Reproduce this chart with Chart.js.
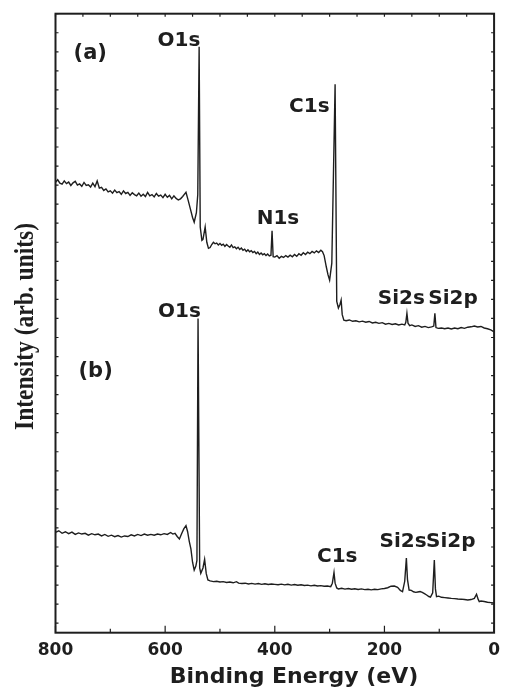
<!DOCTYPE html>
<html>
<head>
<meta charset="utf-8">
<script src="https://cdn.jsdelivr.net/npm/chart.js@4.4.1/dist/chart.umd.min.js"></script>
<style>
  html, body { margin: 0; padding: 0; background: #fff; }
  #wrap { width: 508px; height: 689px; position: relative; }
</style>
</head>
<body>
<div id="wrap"><canvas id="xps"></canvas></div>
<script>
// --- spectrum (a): binding energy (eV) / intensity (arb. units) ---
const aEnergy = [800, 796, 792, 788, 784, 780, 776, 772, 768, 764, 760, 756, 752, 748, 744, 740, 736, 732, 728, 724,
  720, 716, 712, 708, 704, 700, 696, 692, 688, 684, 680, 676, 672, 668, 664, 660, 656, 652, 648, 644,
  640, 636, 632, 628, 624, 620, 616, 612, 608, 604, 600, 596, 592, 588, 584, 580, 576, 572, 568, 564,
  562, 558, 554, 550, 547, 543, 540.5, 538, 536, 533, 531, 527, 524, 521, 518, 515, 512, 509, 506, 503,
  500, 497, 494, 491, 488, 485, 482, 479, 476, 473, 470, 467, 464, 461, 458, 455, 452, 449, 446, 443,
  440, 437, 434, 431, 428, 425, 422, 419, 416, 413, 410, 407, 405, 403, 400, 396, 392, 388, 384, 380,
  376, 372, 368, 364, 360, 356, 352, 348, 344, 340, 336, 332, 328, 324, 320, 316, 313, 310, 306, 303,
  300, 296, 290, 287, 284, 281, 279, 277, 274, 270, 264, 258, 252, 246, 240, 234, 228, 222, 216, 210,
  204, 198, 192, 186, 180, 174, 168, 163, 161, 159, 157, 154, 150, 144, 138, 132, 126, 120, 114, 110,
  108, 106, 102, 96, 90, 84, 78, 72, 66, 60, 54, 48, 42, 36, 30, 24, 18, 12, 6, 0];
const aIntensity = [23.15, 23.28, 23.10, 23.05, 23.22, 23.08, 23.16, 22.98, 23.12, 23.20, 23.00, 23.06, 22.94, 23.14, 22.98, 23.02, 22.90, 23.10, 22.92, 23.22,
  22.84, 22.88, 22.72, 22.80, 22.64, 22.70, 22.58, 22.74, 22.60, 22.66, 22.52, 22.70, 22.56, 22.62, 22.46, 22.60, 22.50, 22.44, 22.58, 22.42,
  22.52, 22.40, 22.62, 22.44, 22.50, 22.38, 22.56, 22.42, 22.48, 22.34, 22.52, 22.36, 22.46, 22.28, 22.44, 22.30, 22.22, 22.28, 22.40, 22.55,
  22.62, 22.20, 21.75, 21.30, 21.05, 21.55, 22.5, 30.26, 20.8, 20.1, 20.15, 20.8, 20.0, 19.68, 19.72, 19.88, 20.00, 19.92, 19.96, 19.86,
  19.94, 19.84, 19.90, 19.78, 19.88, 19.80, 19.74, 19.86, 19.72, 19.76, 19.66, 19.74, 19.62, 19.70, 19.58, 19.64, 19.52, 19.60, 19.50, 19.56,
  19.46, 19.52, 19.40, 19.48, 19.36, 19.44, 19.34, 19.40, 19.30, 19.38, 19.28, 19.32, 20.6, 19.24, 19.22, 19.30, 19.16, 19.26, 19.20, 19.30,
  19.22, 19.32, 19.24, 19.36, 19.26, 19.40, 19.32, 19.45, 19.36, 19.48, 19.40, 19.52, 19.44, 19.55, 19.46, 19.58, 19.50, 19.30, 18.70, 18.30,
  18.01, 18.9, 28.30, 16.9, 16.55, 16.75, 16.96, 16.2, 15.91, 15.88, 15.92, 15.85, 15.88, 15.82, 15.86, 15.80, 15.84, 15.76, 15.80, 15.74,
  15.78, 15.70, 15.74, 15.68, 15.72, 15.66, 15.70, 15.66, 15.80, 16.27, 15.75, 15.62, 15.66, 15.58, 15.62, 15.54, 15.58, 15.52, 15.56, 15.60,
  16.27, 15.52, 15.48, 15.50, 15.46, 15.50, 15.45, 15.50, 15.46, 15.52, 15.48, 15.54, 15.56, 15.60, 15.55, 15.58, 15.50, 15.46, 15.40, 15.30];

// --- spectrum (b) ---
const bEnergy = [800, 794, 788, 782, 776, 770, 764, 758, 752, 746, 740, 734, 728, 722, 716, 710, 704, 698, 692, 686,
  680, 674, 668, 662, 656, 650, 644, 638, 632, 626, 620, 614, 608, 602, 596, 590, 586, 582, 578, 574,
  570, 566, 562, 559, 556, 553, 550, 547, 544, 542, 540, 537, 535, 531, 528, 525, 522, 518, 512, 506,
  500, 494, 488, 482, 476, 470, 466, 460, 454, 448, 442, 436, 430, 424, 418, 412, 406, 400, 394, 388,
  382, 376, 370, 364, 358, 352, 346, 340, 334, 328, 322, 316, 310, 304, 298, 295, 292, 290, 287, 284,
  278, 272, 266, 260, 254, 248, 242, 236, 230, 224, 218, 212, 206, 200, 194, 188, 182, 176, 171, 167,
  163, 160, 158, 155, 151, 147, 143, 139, 135, 131, 127, 123, 119, 116, 112, 109, 107, 105, 101, 96,
  90, 84, 78, 72, 66, 60, 54, 48, 42, 36, 32, 29, 27, 24, 18, 12, 6, 0];
const bIntensity = [4.77, 4.85, 4.72, 4.80, 4.70, 4.78, 4.66, 4.74, 4.68, 4.72, 4.62, 4.70, 4.64, 4.68, 4.58, 4.66, 4.56, 4.62, 4.54, 4.60,
  4.52, 4.58, 4.55, 4.64, 4.58, 4.66, 4.60, 4.68, 4.62, 4.66, 4.62, 4.68, 4.64, 4.70, 4.66, 4.76, 4.68, 4.72, 4.55, 4.42,
  4.70, 4.95, 5.12, 4.80, 4.30, 3.90, 3.20, 2.79, 3.00, 3.30, 16.0, 2.9, 2.62, 2.90, 3.35, 2.60, 2.27, 2.22, 2.18, 2.20,
  2.16, 2.18, 2.14, 2.16, 2.12, 2.18, 2.10, 2.08, 2.10, 2.06, 2.09, 2.05, 2.08, 2.04, 2.07, 2.03, 2.06, 2.04, 2.02, 2.05,
  2.01, 2.04, 2.00, 2.03, 1.99, 2.02, 1.98, 2.00, 1.96, 1.99, 1.95, 1.97, 1.94, 1.95, 1.92, 2.10, 2.66, 2.10, 1.85, 1.80,
  1.83, 1.79, 1.82, 1.78, 1.81, 1.77, 1.80, 1.76, 1.78, 1.75, 1.78, 1.76, 1.80, 1.82, 1.86, 1.94, 1.95, 1.88, 1.72, 1.65,
  2.20, 3.42, 2.30, 1.74, 1.72, 1.65, 1.62, 1.64, 1.66, 1.62, 1.55, 1.48, 1.40, 1.37, 1.60, 3.32, 1.80, 1.39, 1.42, 1.36,
  1.34, 1.32, 1.30, 1.29, 1.27, 1.26, 1.24, 1.22, 1.24, 1.30, 1.52, 1.25, 1.13, 1.16, 1.14, 1.10, 1.08, 1.06];

// x axis tick labels
const xTickValues = [800, 600, 400, 200, 0];

// peak and panel labels (anchored at energy / intensity)
const labelText = ["(a)", "O1s", "N1s", "C1s", "Si2s", "Si2p", "(b)", "O1s", "C1s", "Si2s", "Si2p"];
const labelEnergy = [767, 614, 433, 374, 212, 120, 758, 613, 323, 209, 124];
const labelIntensity = [29.6, 30.3, 20.95, 26.85, 16.75, 16.75, 12.95, 16.1, 3.23, 4.0, 4.0];

const INK = "#1e1e1e";
const SANS = "'DejaVu Sans', sans-serif";

function toPoints(xs, ys) {
  return xs.map((x, i) => ({ x: x, y: ys[i] }));
}

// frame, inward ticks, axis titles and peak labels
const decorations = {
  id: "decorations",
  afterDraw(chart) {
    const { ctx, chartArea: area } = chart;
    const sx = chart.scales.x;
    const sy = chart.scales.y;
    ctx.save();
    ctx.strokeStyle = INK;
    ctx.lineWidth = 1.2;
    ctx.beginPath();
    // bottom: major every 200, minor every 100
    for (let e = 0; e <= 800; e += 100) {
      const px = sx.getPixelForValue(e);
      const len = e % 200 === 0 ? 7 : 4;
      ctx.moveTo(px, area.bottom);
      ctx.lineTo(px, area.bottom - len);
    }
    // top: every 50
    for (let e = 0; e <= 800; e += 50) {
      const px = sx.getPixelForValue(e);
      ctx.moveTo(px, area.top);
      ctx.lineTo(px, area.top + 3);
    }
    // left / right
    for (let v = 0; v <= 32; v++) {
      const py = sy.getPixelForValue(v);
      ctx.moveTo(area.left, py);
      ctx.lineTo(area.left + 3, py);
      ctx.moveTo(area.right, py);
      ctx.lineTo(area.right - 3, py);
    }
    ctx.stroke();

    ctx.lineWidth = 2;
    ctx.strokeRect(area.left, area.top, area.right - area.left, area.bottom - area.top);

    ctx.fillStyle = INK;
    ctx.textAlign = "left";
    ctx.textBaseline = "alphabetic";
    labelText.forEach((t, i) => {
      ctx.font = (t[0] === "(" ? "bold 21px " : "bold 20px ") + SANS;
      ctx.fillText(t, sx.getPixelForValue(labelEnergy[i]), sy.getPixelForValue(labelIntensity[i]));
    });

    // x title
    ctx.font = "bold 22px " + SANS;
    ctx.textAlign = "center";
    ctx.fillText("Binding Energy (eV)", 294, 683);

    // y title (serif, squeezed along baseline)
    const yTitle = "Intensity (arb. units)";
    ctx.font = "bold 27px 'Liberation Serif', 'Times New Roman', serif";
    const w = ctx.measureText(yTitle).width;
    ctx.translate(33, 430);
    ctx.rotate(-Math.PI / 2);
    ctx.scale(207 / w, 1);
    ctx.textAlign = "left";
    ctx.fillText(yTitle, 0, 0);
    ctx.restore();
  },
};

new Chart(document.getElementById("xps"), {
  type: "line",
  data: {
    datasets: [
      {
        label: "(a)",
        data: toPoints(aEnergy, aIntensity),
        borderColor: INK,
        borderWidth: 1.4,
        pointRadius: 0,
        tension: 0,
      },
      {
        label: "(b)",
        data: toPoints(bEnergy, bIntensity),
        borderColor: INK,
        borderWidth: 1.4,
        pointRadius: 0,
        tension: 0,
      },
    ],
  },
  options: {
    responsive: true,
    maintainAspectRatio: false,
    animation: false,
    layout: { padding: { left: 55.5, right: 6.3, top: 13.7, bottom: 0 } },
    plugins: {
      legend: { display: false },
      tooltip: { enabled: false },
    },
    scales: {
      x: {
        type: "linear",
        min: 0,
        max: 800,
        reverse: true,
        afterBuildTicks: (scale) => {
          scale.ticks = xTickValues.map((v) => ({ value: v }));
        },
        afterFit: (scale) => {
          scale.height = 56.3;
        },
        grid: { display: false, drawTicks: false },
        border: { display: false },
        ticks: {
          autoSkip: false,
          maxRotation: 0,
          padding: 8,
          color: INK,
          font: { family: SANS, weight: "bold", size: 17 },
        },
      },
      y: {
        type: "linear",
        min: -0.5,
        max: 32,
        display: false,
      },
    },
  },
  plugins: [decorations],
});
</script>
</body>
</html>
